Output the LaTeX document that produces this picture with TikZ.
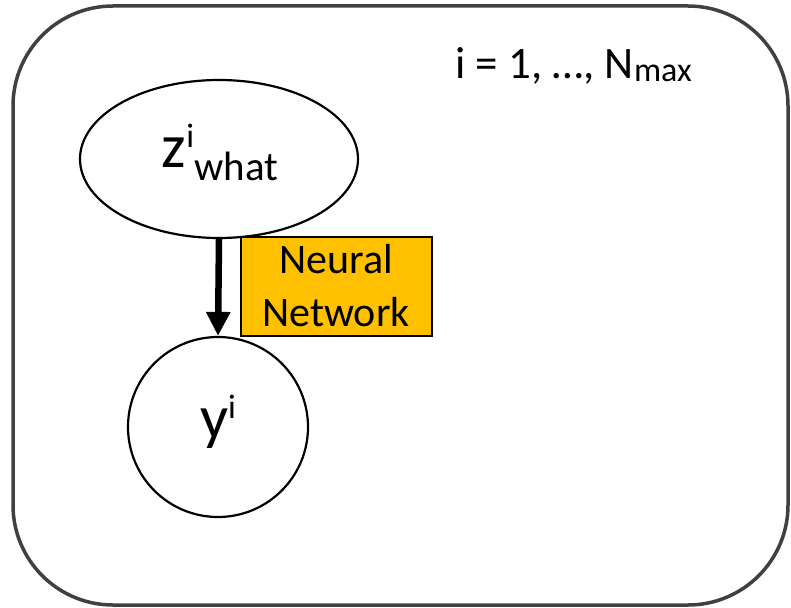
\documentclass[tikz,border=0pt]{standalone}
\usepackage{fontspec}
\setmainfont{Carlito}
\usetikzlibrary{shapes.geometric,arrows.meta}
\definecolor{nnfill}{HTML}{FFC000}
\definecolor{framegray}{HTML}{404040}
\tikzset{
  platebox/.style={draw=framegray, line width=3.5pt, rounded corners=100pt},
  varnode/.style={draw=black, line width=2.2pt, inner sep=0pt},
  nnbox/.style={draw=black, line width=2pt, fill=nnfill, inner sep=0pt,
    minimum width=191pt, minimum height=99pt, align=center,
    font=\fontsize{42}{53}\selectfont},
  flow/.style={line width=6.5pt, -{Triangle[width=23pt,length=24pt]}}
}
\begin{document}
\begin{tikzpicture}[x=1pt,y=-1pt]
  \useasboundingbox (0,0) rectangle (791,607);
  % plate
  \draw[platebox] (13,6) rectangle (788,605);
  \node[anchor=base west, inner sep=0pt, font=\fontsize{45}{48}\selectfont] (range) at (455,79)
    {i = 1, …, N\raisebox{-2pt}{\fontsize{34}{36}\selectfont max}};
  % latent variable and observation
  \node[varnode, ellipse, minimum width=278pt, minimum height=158pt] (zw) at (219,159) {};
  \node[anchor=base, inner sep=0pt, font=\fontsize{62}{66}\selectfont] (zlab) at (220,167)
    {z\raisebox{20pt}{\fontsize{34}{36}\selectfont i}\raisebox{-13pt}{\fontsize{41}{44}\selectfont what}};
  \node[varnode, circle, minimum size=180pt] (y) at (218,427) {};
  \node[anchor=base, inner sep=0pt, font=\fontsize{62}{66}\selectfont] (ylab) at (218,438)
    {y\raisebox{20pt}{\fontsize{34}{36}\selectfont i}};
  % decoder
  \draw[flow] (zw.south) -- (y.north);
  \node[nnbox] (nn) at (336,286) {Neural\\Network};
\end{tikzpicture}
\end{document}
